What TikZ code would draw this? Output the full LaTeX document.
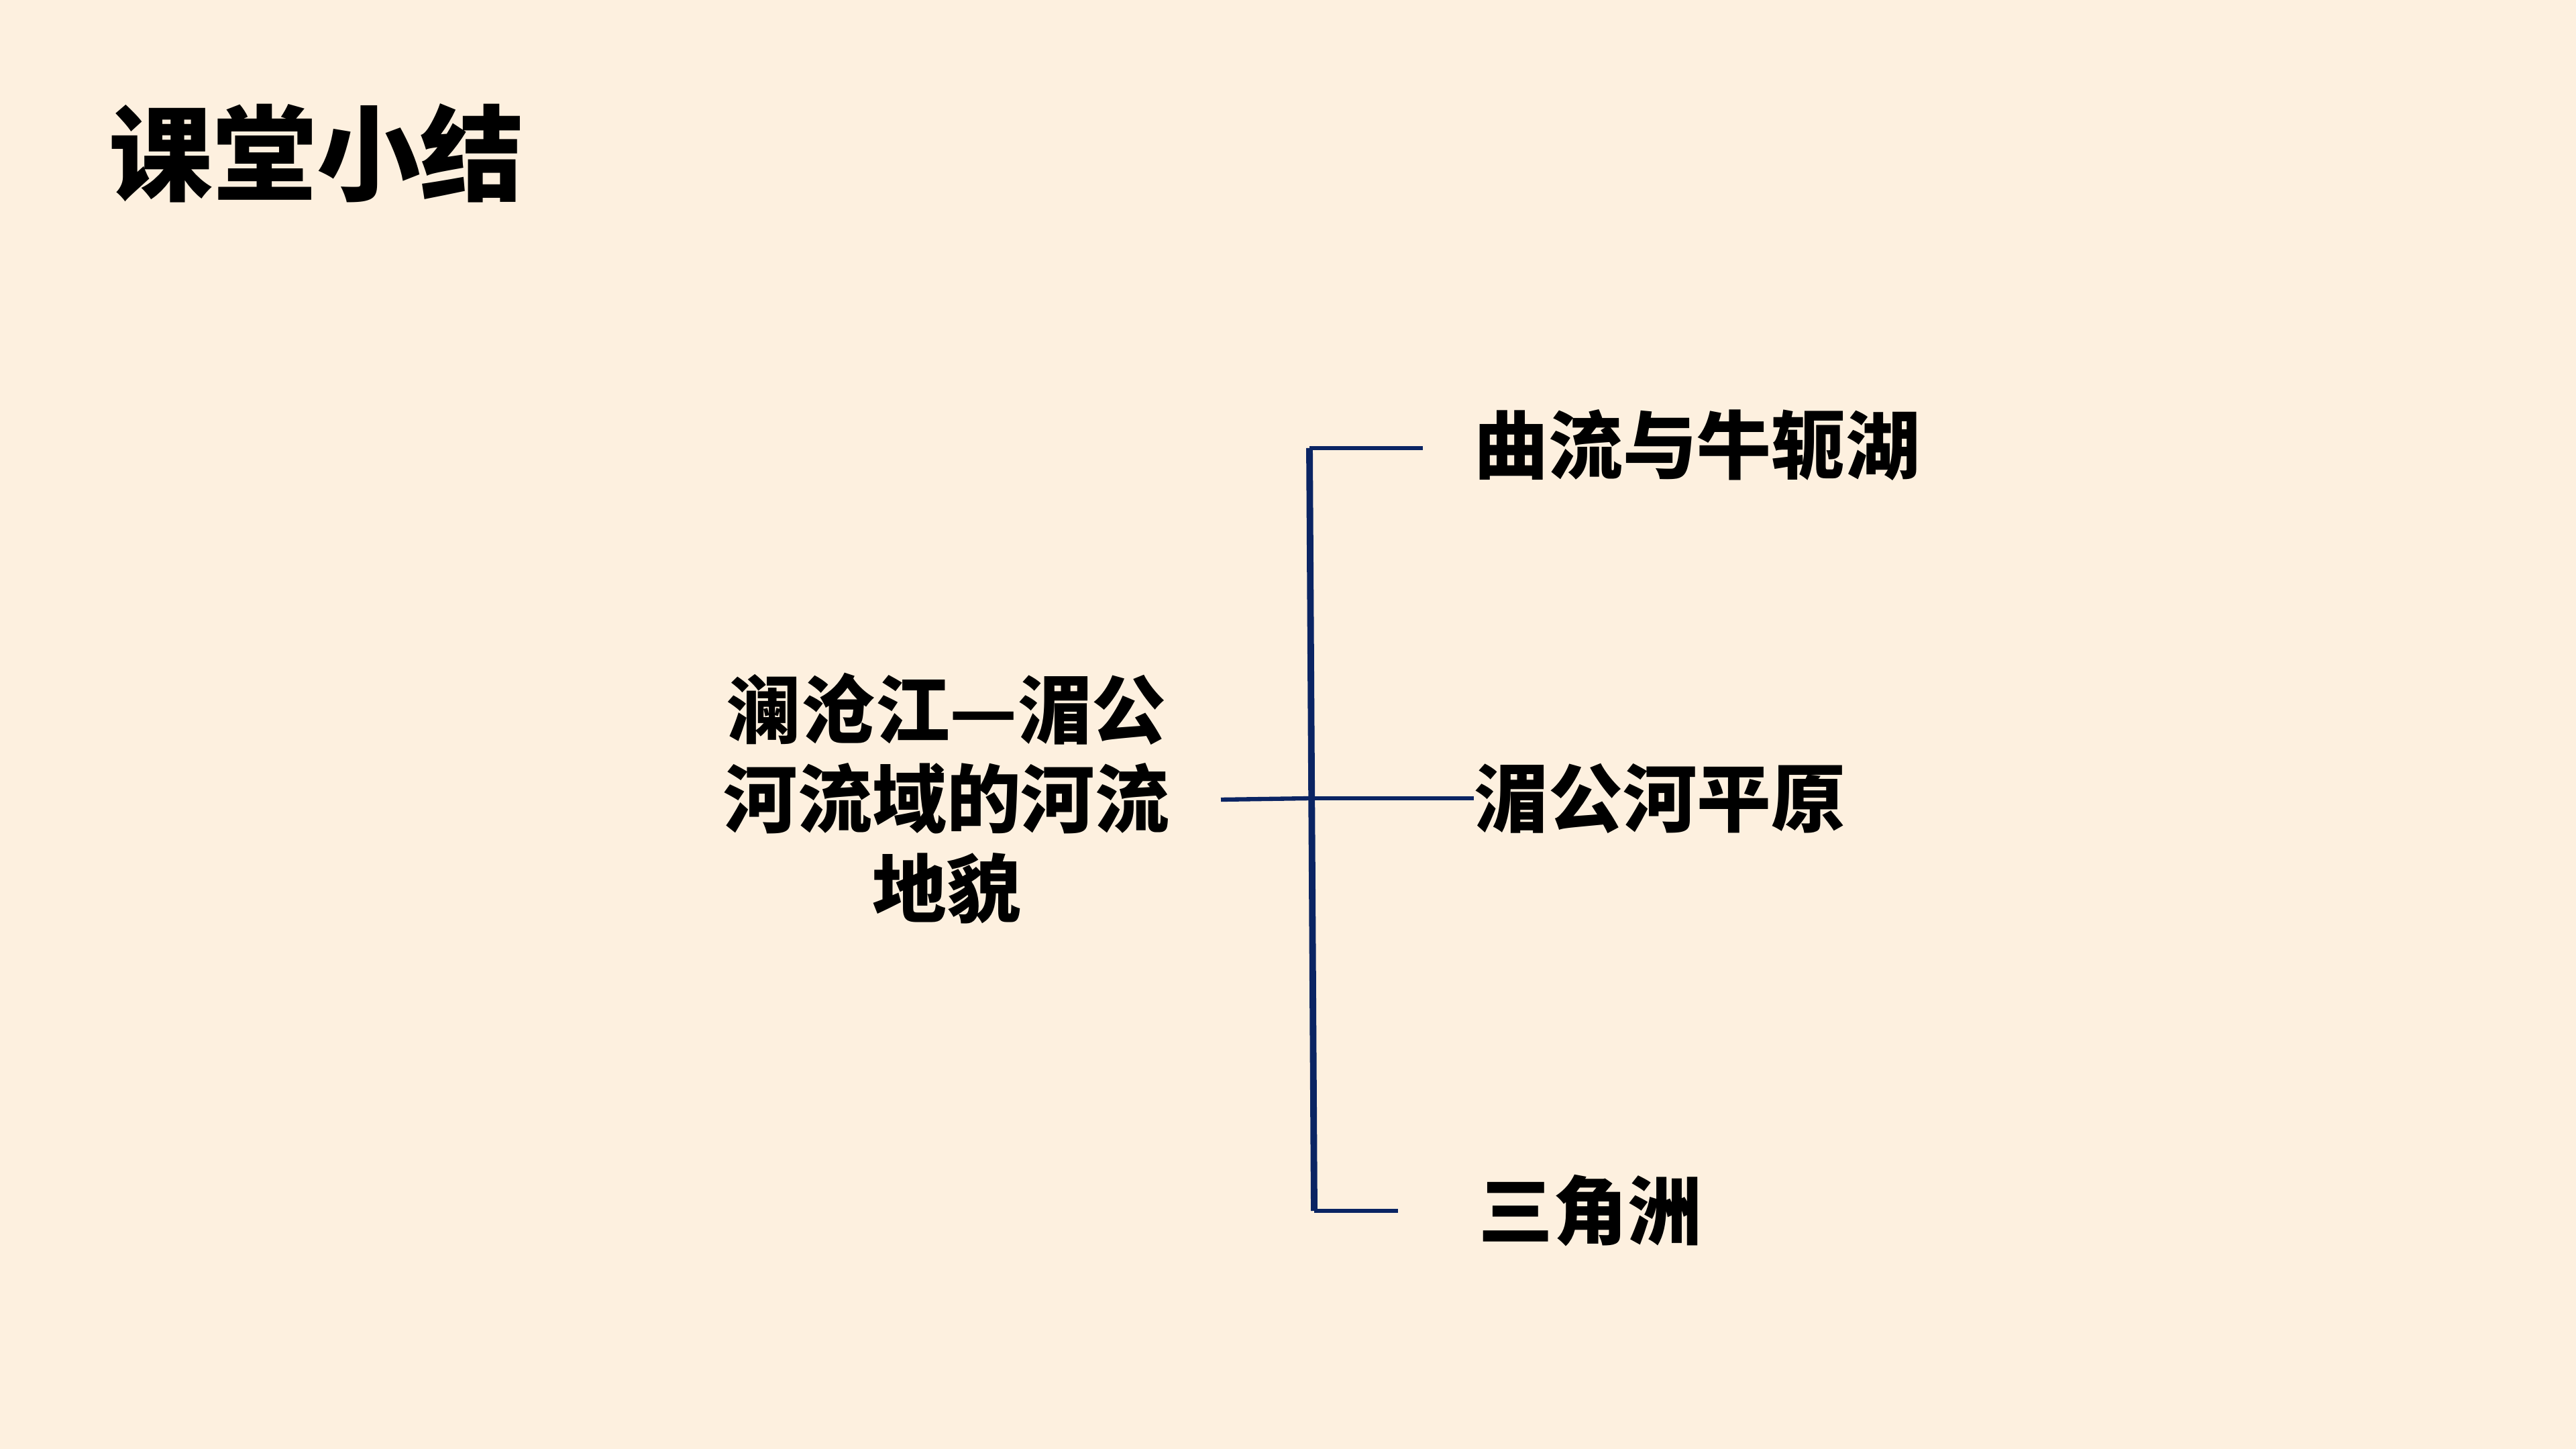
\documentclass[tikz,border=0pt]{standalone}
\usepackage{fontspec}
\usepackage{tikz}
\usetikzlibrary{positioning}
\newfontfamily\cjk{Noto Sans CJK SC}
\definecolor{bgcream}{HTML}{FDF0DF}
\definecolor{linenavy}{HTML}{0A2463}

\begin{document}
\begin{tikzpicture}[
    branch/.style={draw=linenavy, line width=1.8pt},
    trunk/.style={draw=linenavy, line width=2.8pt},
    leaf/.style={anchor=west, inner sep=0pt, font=\cjk\bfseries\fontsize{31.5}{38}\selectfont}
]
\fill[bgcream] (0,0) rectangle (38.4,21.6);
\useasboundingbox (0,0) rectangle (38.4,21.6);

\node (title) at (4.72,19.32) {\cjk\bfseries\fontsize{44}{50}\selectfont 课堂小结};

\node[align=center, inner sep=0pt, font=\cjk\bfseries\fontsize{31.5}{38}\selectfont] (topic) at (14.11,9.70)
    {澜沧江—湄公\\河流域的河流\\地貌};

\node[leaf] (meander) at (21.97,14.96) {曲流与牛轭湖};
\node[leaf] (plain) at (21.97,9.70) {湄公河平原};
\node[leaf] (delta) at (22.04,3.55) {三角洲};

% bracket
\coordinate (jtop) at (19.52,14.92);
\coordinate (jmid) at (19.55,9.70);
\coordinate (jbot) at (19.59,3.55);
\coordinate (topend) at (21.21,14.92);
\coordinate (botend) at (20.84,3.55);
\coordinate (topicend) at (18.20,9.68);

\draw[trunk] (jtop)--(jbot);
\draw[branch] (jtop)--(topend);
\draw[branch] (jbot)--(botend);
\draw[branch] (topicend)--(jmid);
\draw[branch] (jmid)--(plain.west);

\end{tikzpicture}
\end{document}
